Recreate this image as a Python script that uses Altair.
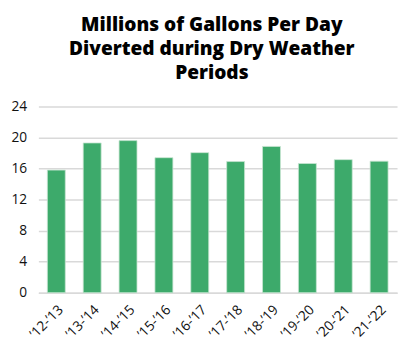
import altair as alt
import pandas as pd

periods = ["\u201912-\u201913", "\u201913-\u201914", "\u201914-\u201915", "\u201915-\u201916", "\u201916-\u201917",
           "\u201917-\u201918", "\u201918-\u201919", "\u201919-\u201920", "\u201920-\u201921", "\u201921-\u201922"]
mgd = [15.8, 19.3, 19.6, 17.4, 18.05, 16.9, 18.85, 16.65, 17.15, 16.95]

df = pd.DataFrame({"period": periods, "mgd": mgd})

FONT = "Open Sans"

chart = alt.Chart(df).mark_bar(color="#3DAA6B", stroke="#C8E6D2", strokeWidth=0.8).encode(
    x=alt.X("period:N", sort=periods, title=None,
            scale=alt.Scale(paddingInner=0.5, paddingOuter=0.25),
            axis=alt.Axis(labelAngle=-45, labelFontSize=14, labelColor="#111", labelFont=FONT,
                          ticks=False, domainColor="#d9d9d9", domainWidth=1.5, labelPadding=10)),
    y=alt.Y("mgd:Q", title=None,
            scale=alt.Scale(domain=[0, 24], nice=False),
            axis=alt.Axis(values=[0, 4, 8, 12, 16, 20, 24], labelFontSize=14, labelColor="#111",
                          labelFont=FONT, ticks=False, domain=False, gridColor="#d9d9d9",
                          gridWidth=1.5, labelPadding=12)),
).properties(
    width=366, height=190,
    title=alt.TitleParams(
        ["Millions of Gallons Per Day", "Diverted during Dry Weather", "Periods"],
        fontSize=19.5, font=FONT, fontWeight=800, color="#000", anchor="middle",
        lineHeight=24.5, offset=17, dx=-6),
    autosize=alt.AutoSizeParams(type="none"),
    padding={"left": 31, "top": 97, "right": 2, "bottom": 55},
).configure_view(stroke=None)

chart.save("out.html", embed_options={"renderer": "svg", "actions": False})
